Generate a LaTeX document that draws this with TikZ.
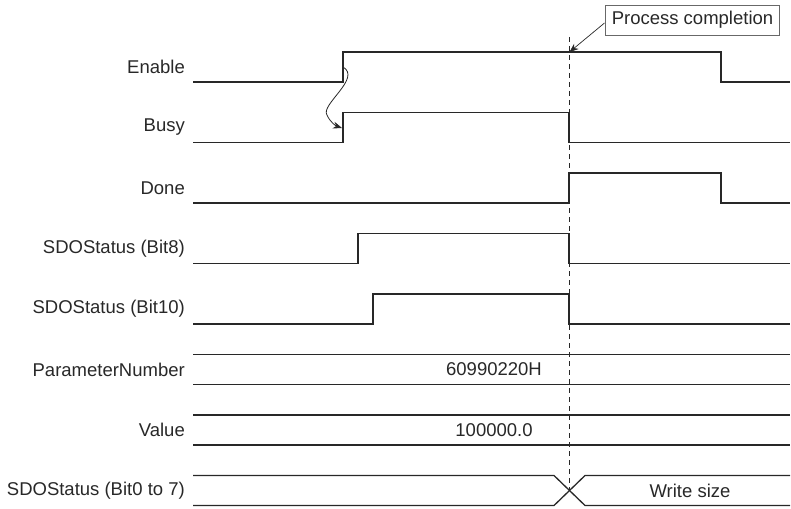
\documentclass[tikz,border=0pt]{standalone}
\usepackage{fontspec}
\setmainfont{Liberation Sans}
\usepackage{tikz}
\usetikzlibrary{arrows.meta,positioning,calc}
\definecolor{sigline}{RGB}{40,40,40}

\begin{document}
\begin{tikzpicture}[x=1pt,y=-1pt,>={Stealth[length=9pt,width=7pt]},
  font=\fontsize{18.5}{20}\selectfont,
  sig/.style={sigline,line width=1.3pt},
  siglabel/.style={anchor=east,inner sep=0pt,text=sigline}]
  \useasboundingbox (0,0) rectangle (791,508);
  % labels
  \foreach \name/\txt [count=\i from 0] in {en/Enable,busy/Busy,done/Done,
      bit8/SDOStatus (Bit8),bit10/SDOStatus (Bit10),parno/ParameterNumber,
      value/Value,bitlow/SDOStatus (Bit0 to 7)}
    \node[siglabel] (\name) at (185,{67+60.5*\i}) {\txt};
  % bit signals
  \draw[sig] (193,82) -- (343,82) -- (343,52) -- (721,52) -- (721,82) -- (790,82);
  \draw[sig] (193,142.5) -- (343,142.5) -- (343,112.5) -- (569,112.5) -- (569,142.5) -- (790,142.5);
  \draw[sig] (193,203) -- (569,203) -- (569,173) -- (721,173) -- (721,203) -- (790,203);
  \draw[sig] (193,263.5) -- (358,263.5) -- (358,233.5) -- (569,233.5) -- (569,263.5) -- (790,263.5);
  \draw[sig] (193,324) -- (373,324) -- (373,294) -- (569,294) -- (569,324) -- (790,324);
  % word signals
  \draw[sig] (193,354.5) -- (790,354.5) (193,384.5) -- (790,384.5);
  \node[text=sigline] (parval) at (494,369.5) {60990220H};
  \draw[sig] (193,415) -- (790,415) (193,445) -- (790,445);
  \node[text=sigline] (valval) at (494,430) {100000.0};
  \draw[sig] (193,475.5) -- (554,475.5) -- (585,505.5) -- (790,505.5);
  \draw[sig] (193,505.5) -- (554,505.5) -- (585,475.5) -- (790,475.5);
  \node[text=sigline] (wsize) at (690,490.5) {Write size};
  % completion
  \coordinate (done top) at (569,37);
  \coordinate (done bot) at (569,490.5);
  \draw[sigline,dashed,line width=0.8pt,dash pattern=on 5pt off 4pt] (done top) -- (done bot);
  \node[draw=sigline!70,line width=0.6pt,inner xsep=6pt,minimum height=30pt,text=sigline]
    (proc) at (692.5,20) {Process completion};
  \coordinate (proc tip) at (569.5,52);
  \draw[->,sigline,line width=0.7pt] ($(proc.west)+(-1,3)$) -- (proc tip);
  \coordinate (en rise) at (343,67);
  \coordinate (busy rise) at (342,128);
  \draw[->,sigline,line width=0.8pt] (en rise) .. controls (362,78) and (320,105) .. (327,115)
    .. controls (330,122) and (336,126) .. (busy rise);
\end{tikzpicture}
\end{document}
